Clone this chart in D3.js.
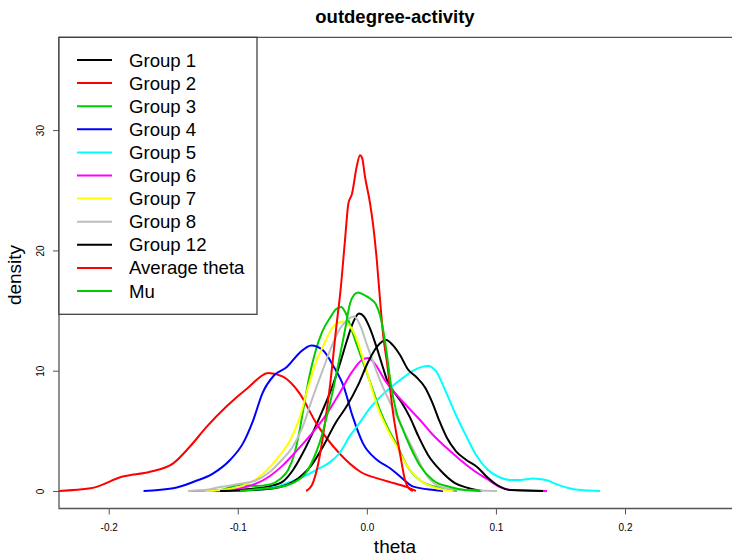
<!DOCTYPE html>
<html><head><meta charset="utf-8">
<script src="https://cdn.jsdelivr.net/npm/d3@7"></script>
<style>body{margin:0;background:#fff}svg{display:block;font-family:"Liberation Sans",Arial,sans-serif}</style>
</head><body><svg id="c" width="732" height="556"></svg>
<script>
const title = "outdegree-activity";
const xLabel = "theta";
const yLabel = "density";
const xTicks = [-0.2, -0.1, 0.0, 0.1, 0.2];
const yTicks = [0, 10, 20, 30];
const seriesNames = ["Group 1","Group 2","Group 3","Group 4","Group 5","Group 6","Group 7","Group 8","Group 12","Average theta","Mu"];
const seriesColors = ["#000000","#ff0000","#00cd00","#0000ff","#00ffff","#ff00ff","#ffff00","#bebebe","#000000","#ff0000","#00cd00"];

const g1x = [-0.1176,-0.0905,-0.0750,-0.0649,-0.0572,-0.0494,-0.0417,-0.0347,-0.0277,-0.0208,-0.0153,-0.0107,-0.0060,-0.0022,0.0025,0.0071,0.0118,0.0164,0.0218,0.0273,0.0335,0.0397,0.0474,0.0567,0.0683,0.0784,0.0892];
const g1y = [0,0.17,0.4,0.8,1.75,3.2,4.9,6.6,8.4,10.6,12.55,14.0,14.75,14.5,13.5,12.1,10.5,9.0,8.1,7.3,6.1,4.6,3.0,1.75,0.66,0.25,0];
const g2x = [-0.239,-0.214,-0.189,-0.168,-0.150,-0.137,-0.124,-0.109,-0.093,-0.076,-0.065,-0.052,-0.039,-0.021,-0.005,0.013,0.034,0.038];
const g2y = [0,0.22,1.2,1.6,2.3,3.7,5.35,7.0,8.5,9.8,9.5,8.1,5.6,3.1,1.6,0.9,0.2,0];
const g3x = [-0.1370,-0.1137,-0.0982,-0.0866,-0.0750,-0.0672,-0.0610,-0.0564,-0.0525,-0.0487,-0.0448,-0.0401,-0.0347,-0.0285,-0.0239,-0.0200,-0.0169,-0.0130,-0.0091,-0.0053,-0.0006,0.0040,0.0102,0.0164,0.0234,0.0311,0.0412,0.0567,0.0699];
const g3y = [0,0.08,0.5,0.42,0.55,1.0,1.75,3.0,4.8,7.1,9.4,11.5,13.2,14.4,15.1,15.3,14.9,13.8,12.55,11.4,10.0,8.6,6.7,5.2,3.8,2.1,0.9,0.25,0];
const g4x = [-0.173,-0.150,-0.134,-0.119,-0.106,-0.096,-0.088,-0.081,-0.072,-0.062,-0.052,-0.043,-0.034,-0.026,-0.018,-0.011,-0.003,0.008,0.018,0.026,0.036,0.052,0.059];
const g4y = [0,0.22,0.77,1.47,2.58,3.96,5.9,8.1,9.6,10.3,11.5,12.1,11.7,10.4,8.7,6.2,3.96,2.58,1.89,1.19,0.36,0.08,0];
const g5x = [-0.1021,-0.0827,-0.0711,-0.0595,-0.0479,-0.0378,-0.0285,-0.0208,-0.0130,-0.0053,0.0025,0.0102,0.0195,0.0280,0.0366,0.0420,0.0474,0.0536,0.0614,0.0691,0.0768,0.0846,0.0939,0.1032,0.1109,0.1187,0.1288,0.1388,0.1466,0.1559,0.1652,0.1807];
const g5y = [0,0.12,0.33,0.75,1.25,1.83,2.4,3.2,4.6,5.7,6.9,7.8,8.7,9.4,10.05,10.3,10.4,9.97,8.2,6.3,4.6,3.0,1.75,1.12,0.91,0.91,1.04,0.91,0.58,0.25,0.08,0];
const g6x = [-0.1253,-0.1021,-0.0866,-0.0750,-0.0649,-0.0548,-0.0440,-0.0324,-0.0208,-0.0115,-0.0037,0.0009,0.0064,0.0141,0.0218,0.0311,0.0412,0.0513,0.0621,0.0722,0.0823,0.0931,0.1032,0.1133,0.1396];
const g6y = [0,0.17,0.58,1.25,2.15,3.3,4.6,6.2,8.2,9.9,10.9,11.05,10.55,9.2,8.15,7.05,5.9,4.65,3.55,2.6,1.75,1.0,0.33,0.08,0];
const g7x = [-0.1253,-0.1099,-0.0959,-0.0843,-0.0750,-0.0672,-0.0595,-0.0517,-0.0456,-0.0394,-0.0332,-0.0277,-0.0223,-0.0184,-0.0130,-0.0076,-0.0022,0.0025,0.0079,0.0156,0.0234,0.0311,0.0412,0.0513,0.0668];
const g7y = [0,0.12,0.45,1.1,2.0,3.0,4.2,6.2,8.6,10.7,12.2,13.4,14.0,14.1,13.7,12.55,10.7,9.0,7.1,5.2,3.66,2.1,0.9,0.33,0];
const g8x = [-0.1385,-0.1253,-0.1137,-0.0982,-0.0866,-0.0750,-0.0657,-0.0579,-0.0502,-0.0425,-0.0347,-0.0277,-0.0208,-0.0153,-0.0099,-0.0053,0.0002,0.0056,0.0102,0.0156,0.0234,0.0311,0.0389,0.0466,0.0567,0.0722,0.1009];
const g8y = [0,0.08,0.33,0.6,0.85,1.6,2.6,3.6,5.2,7.6,9.9,11.9,13.5,14.2,14.5,13.8,12.1,10.5,9.2,7.9,6.15,4.5,2.8,1.25,0.37,0.08,0];
const g12x = [-0.1137,-0.0827,-0.0672,-0.0572,-0.0494,-0.0425,-0.0339,-0.0246,-0.0153,-0.0068,0.0009,0.0079,0.0149,0.0203,0.0257,0.0319,0.0381,0.0451,0.0505,0.0559,0.0621,0.0691,0.0768,0.0854,0.0931,0.1009,0.1109,0.1365];
const g12y = [0,0.12,0.33,0.75,1.4,2.2,3.7,5.6,7.1,8.8,10.7,12.0,12.55,12.1,11.3,10.1,9.5,8.6,7.4,5.9,4.4,3.3,2.6,2.0,1.16,0.5,0.08,0];
const avgx = [-0.0471,-0.0425,-0.0378,-0.0332,-0.0285,-0.0239,-0.0200,-0.0169,-0.0143,-0.0115,-0.0078,-0.0053,-0.0037,-0.0014,0.0025,0.0050,0.0077,0.0102,0.0126,0.0157,0.0203,0.0257,0.0296,0.0327,0.0358];
const avgy = [0,0.5,2.2,5.1,8.8,13.4,17.1,20.9,23.9,24.7,27.0,27.9,27.7,26.1,23.9,22.0,19.2,15.9,13.0,10.6,6.5,3.1,0.9,0.2,0];
const mux = [-0.0982,-0.0827,-0.0672,-0.0556,-0.0479,-0.0417,-0.0363,-0.0308,-0.0262,-0.0215,-0.0169,-0.0130,-0.0099,-0.0068,-0.0022,0.0025,0.0071,0.0102,0.0133,0.0156,0.0187,0.0226,0.0280,0.0335,0.0412,0.0513,0.0645,0.0761,0.0877];
const muy = [0,0.17,0.33,0.75,1.4,2.6,4.1,6.3,8.4,10.9,13.4,15.6,16.3,16.5,16.3,16.0,15.5,14.6,13.0,11.3,8.8,6.7,5.07,3.7,2.1,0.9,0.33,0.08,0];

const seriesX = [g1x,g2x,g3x,g4x,g5x,g6x,g7x,g8x,g12x,avgx,mux];
const seriesY = [g1y,g2y,g3y,g4y,g5y,g6y,g7y,g8y,g12y,avgy,muy];

const svg = d3.select("#c");
const plot = {left:59, right:732, top:37.3, bottom:508.5};
const x = d3.scaleLinear().domain([-0.2, 0.2]).range([108.7, 625]);
const y = d3.scaleLinear().domain([0, 30]).range([491, 130.1]);

svg.append("defs").append("clipPath").attr("id","clip").append("rect")
  .attr("x", plot.left).attr("y", plot.top).attr("width", plot.right-plot.left).attr("height", plot.bottom-plot.top);

const line = d3.line().x(d=>x(d[0])).y(d=>y(d[1])).curve(d3.curveMonotoneX);
const gl = svg.append("g").attr("clip-path","url(#clip)");
seriesNames.forEach((n,i)=>{
  const pts = seriesX[i].map((v,j)=>[v, seriesY[i][j]]);
  gl.append("path").attr("d", line(pts)).attr("fill","none")
    .attr("stroke", seriesColors[i]).attr("stroke-width", 2).attr("stroke-linejoin","round");
});

// box
const axCol = "#555";
svg.append("path").attr("d", `M${plot.right+2},${plot.top}H${plot.left}V${plot.bottom}H${plot.right+2}`)
  .attr("fill","none").attr("stroke", axCol).attr("stroke-width",1.3);

// x axis
const xa = svg.append("g").attr("transform",`translate(0,${plot.bottom})`)
  .call(d3.axisBottom(x).tickValues(xTicks).tickSize(6).tickFormat(d=>d.toFixed(1)));
xa.select(".domain").remove();
xa.selectAll(".tick line").attr("stroke", axCol);
xa.selectAll(".tick text").attr("font-size", 10).attr("fill","#000").attr("dy", null).attr("y", 22)
  .attr("font-family", "Liberation Sans, Arial, sans-serif");

// y axis
const ya = svg.append("g").attr("transform",`translate(${plot.left},0)`)
  .call(d3.axisLeft(y).tickValues(yTicks).tickSize(6).tickFormat(d=>String(d)));
ya.select(".domain").remove();
ya.selectAll(".tick line").attr("stroke", axCol);
ya.selectAll(".tick text").attr("font-size", 10).attr("fill","#000")
  .attr("x", null).attr("dy", null)
  .attr("transform", "translate(-18,0) rotate(-90)").attr("text-anchor","middle").attr("dominant-baseline","middle")
  .attr("font-family", "Liberation Sans, Arial, sans-serif");

// titles
svg.append("text").attr("x", 395).attr("y", 23).attr("text-anchor","middle")
  .attr("font-size", 18.5).attr("font-weight","bold").text(title);
svg.append("text").attr("x", 395).attr("y", 553).attr("text-anchor","middle")
  .attr("font-size", 19).text(xLabel);
svg.append("text").attr("transform","translate(21,275) rotate(-90)").attr("text-anchor","middle")
  .attr("font-size", 19).text(yLabel);

// legend
const lg = svg.append("g");
lg.append("rect").attr("x", plot.left).attr("y", plot.top).attr("width", 198).attr("height", 277)
  .attr("fill","#fff").attr("stroke","#333").attr("stroke-width",1.2);
seriesNames.forEach((n,i)=>{
  const yy = 60 + i*23.1;
  lg.append("line").attr("x1",77).attr("x2",112).attr("y1",yy).attr("y2",yy)
    .attr("stroke", seriesColors[i]).attr("stroke-width",2);
  lg.append("text").attr("x",129).attr("y",yy).attr("dy","0.35em").attr("font-size",18.6).text(n);
});
</script></body></html>
